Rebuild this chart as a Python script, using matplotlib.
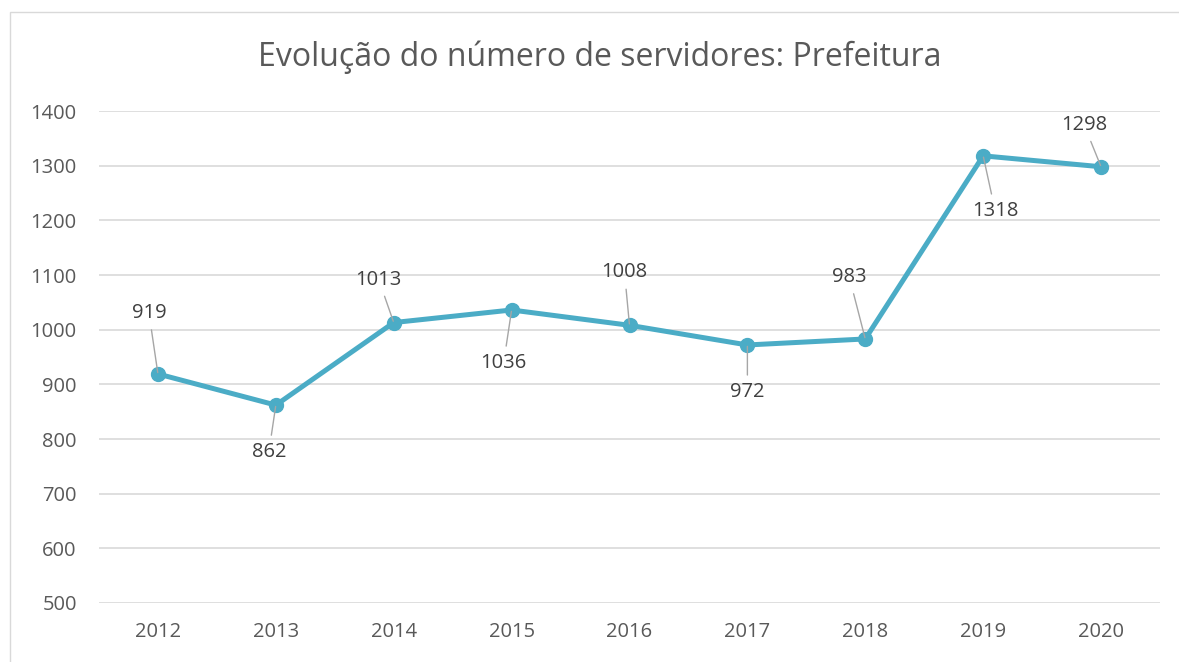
import matplotlib
matplotlib.use("Agg")
import matplotlib.pyplot as plt
from matplotlib.patches import Rectangle

years = ["2012", "2013", "2014", "2015", "2016", "2017", "2018", "2019", "2020"]
values = [919, 862, 1013, 1036, 1008, 972, 983, 1318, 1298]
# label offsets in pixels (dx, dy) from the point
label_offsets = [(-9, 61), (-7, -47), (-15, 43), (-8, -53), (-5, 53), (0, -47), (-16, 62), (12, -55), (-17, 42)]
yticks = [500, 600, 700, 800, 900, 1000, 1100, 1200, 1300, 1400]

plt.rcParams['font.family'] = ['Open Sans', 'DejaVu Sans']
W, H = 1179, 662
fig = plt.figure(figsize=(W / 100, H / 100), dpi=100)
fig.patch.set_facecolor('white')

# chart border
fig.patches.append(Rectangle((10 / W, -0.1), 1.2, 1 - 12 / H + 0.1, transform=fig.transFigure,
                             fill=False, edgecolor='#D9D9D9', linewidth=1.0))

ax = fig.add_axes([99 / W, 1 - 603 / H, (1160 - 99) / W, (603 - 111) / H])
x = list(range(len(years)))
ax.plot(x, values, color='#4BACC6', linewidth=3.6, marker='o', markersize=10,
        solid_capstyle='round', zorder=3)

ax.set_xlim(-0.5, len(years) - 0.5)
ax.set_ylim(500, 1400)
ax.set_yticks(yticks)
ax.set_xticks(x)
ax.set_xticklabels(years)
ax.grid(axis='y', color='#D9D9D9', linewidth=1.2)
ax.set_axisbelow(True)
for s in ax.spines.values():
    s.set_visible(False)
ax.tick_params(axis='both', length=0, labelsize=14.5, colors='#595959')
ax.tick_params(axis='y', pad=16)
ax.tick_params(axis='x', pad=14)

for xi, v, (dx, dy) in zip(x, values, label_offsets):
    ax.annotate(str(v), xy=(xi, v), xytext=(dx * 0.72, dy * 0.72), textcoords='offset points',
                ha='center', va='center', fontsize=14.5, color='#404040',
                arrowprops=dict(arrowstyle='-', color='#A6A6A6', linewidth=1.0,
                                shrinkA=3, shrinkB=1))

fig.text(600 / W, 1 - 57 / H, "Evolução do número de servidores: Prefeitura",
         ha='center', va='center', fontsize=23, color='#595959')

fig.savefig("out.png", dpi=100, facecolor='white')
